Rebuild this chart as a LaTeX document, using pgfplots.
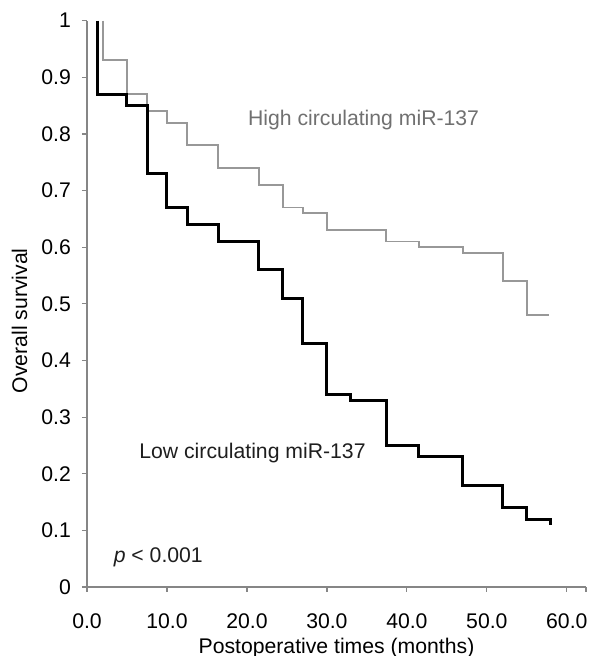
\documentclass[border=0pt]{standalone}
\usepackage{fontspec}
\setmainfont{Liberation Sans}
\usepackage{pgfplots}
\pgfplotsset{compat=1.18}
\definecolor{axgray}{RGB}{134,134,134}
\definecolor{hicurve}{RGB}{152,152,152}
\definecolor{hitext}{RGB}{112,112,112}
\definecolor{lotext}{RGB}{30,30,30}

\begin{document}
\begin{tikzpicture}
% page size matching the reference margins (axis box is 249.5pt x 283.15pt)
\useasboundingbox (-43.5pt,-34.5pt) rectangle (255.5pt,293.5pt);
\begin{axis}[
    scale only axis,
    width=249.5pt, height=283.15pt,
    xmin=0, xmax=62.4, ymin=0, ymax=1,
    axis lines*=left,
    axis line style={axgray, line width=0.6pt},
    tick style={axgray, line width=0.6pt},
    major tick length=2.5pt,
    tick align=outside,
    xtick={0,10,20,30,40,50,60},
    ytick={0,0.1,0.2,0.3,0.4,0.5,0.6,0.7,0.8,0.9,1},
    extra x ticks={62.4},
    extra x tick labels={},
    font=\fontsize{10.6}{12}\selectfont,
    /pgf/number format/assume math mode=true,
    x tick label style={anchor=north, inner sep=0pt, yshift=-10.5pt,
        /pgf/number format/.cd, fixed, fixed zerofill, precision=1},
    y tick label style={anchor=east, inner sep=0pt, xshift=-5.4pt,
        /pgf/number format/.cd, fixed, precision=1},
    xlabel={Postoperative times (months)},
    ylabel={Overall survival},
    xlabel style={at={(axis description cs:0.5,-0.108)}, anchor=center},
    ylabel style={at={(axis description cs:-0.135,0.47)}, anchor=center, rotate=0},
    clip=false,
]
% high circulating miR-137
\addplot[const plot, hicurve, line width=0.9pt] coordinates {
    (2,1) (2,0.93) (5,0.87) (7.5,0.84) (10,0.82) (12.5,0.78) (16.4,0.74)
    (21.5,0.71) (24.5,0.67) (27,0.66) (30,0.63) (37.4,0.61) (41.5,0.60)
    (47,0.59) (52,0.54) (55,0.48) (57.8,0.48)
};
% low circulating miR-137
\addplot[const plot, black, line width=1.5pt] coordinates {
    (1.3,1) (1.3,0.87) (5,0.85) (7.6,0.73) (10,0.67) (12.6,0.64) (16.5,0.61)
    (21.5,0.56) (24.4,0.51) (27,0.43) (30,0.34) (33,0.33) (37.5,0.25)
    (41.5,0.23) (46.9,0.18) (51.9,0.14) (55,0.12) (58,0.11)
};
\node[anchor=west, text=hitext, inner sep=0pt] at (axis cs:20.1,0.825) {High circulating miR-137};
\node[anchor=west, text=lotext, inner sep=0pt] at (axis cs:6.5,0.237) {Low circulating miR-137};
\node[anchor=west, text=lotext, inner sep=0pt] at (axis cs:3.3,0.053) {\textit{p} < 0.001};
\end{axis}
\end{tikzpicture}
\end{document}
